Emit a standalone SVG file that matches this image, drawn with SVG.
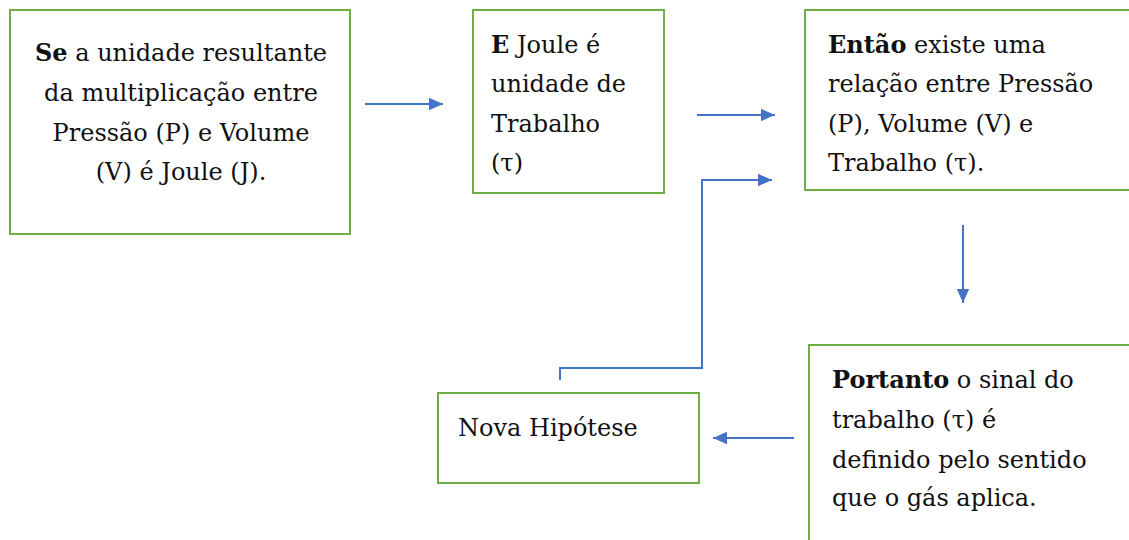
<svg xmlns="http://www.w3.org/2000/svg" width="1129" height="540" viewBox="0 0 1129 540">
<style>
.box{fill:#fff;stroke:#70ad47;stroke-width:2}
.t{font-family:'DejaVu Serif','Liberation Serif',serif;font-size:24px;fill:#111}
.c{text-anchor:middle}
.b{font-weight:bold}
.con{fill:none;stroke:#4472c4;stroke-width:2}
</style>
<defs>
<marker id="ah2" viewBox="0 0 10 10" refX="10" refY="5" markerWidth="7" markerHeight="7" orient="auto">
<path d="M0,0.6 L10,5 L0,9.4 z" fill="#4472c4"/>
</marker>
</defs>
<rect width="1129" height="540" fill="#fff"/>
<g id="n1">
<rect class="box" x="10" y="10" width="340" height="224"/>
<text class="t c" x="181" y="61"><tspan class="b">Se</tspan> a unidade resultante</text>
<text class="t c" x="181" y="101">da multiplicação entre</text>
<text class="t c" x="181" y="141">Pressão (P) e Volume</text>
<text class="t c" x="181" y="180">(V) é Joule (J).</text>
</g>
<g id="n2">
<rect class="box" x="473" y="10" width="191" height="183"/>
<text class="t" x="491" y="53"><tspan class="b">E</tspan> Joule é</text>
<text class="t" x="491" y="92">unidade de</text>
<text class="t" x="491" y="132">Trabalho</text>
<text class="t" x="491" y="171">(τ)</text>
</g>
<g id="n3">
<rect class="box" x="805" y="10" width="330" height="180"/>
<text class="t" x="828" y="53"><tspan class="b">Então</tspan> existe uma</text>
<text class="t" x="828" y="92">relação entre Pressão</text>
<text class="t" x="828" y="132">(P), Volume (V) e</text>
<text class="t" x="828" y="171">Trabalho (τ).</text>
</g>
<g id="n4">
<rect class="box" x="809" y="345" width="326" height="205"/>
<text class="t" x="832" y="388"><tspan class="b">Portanto</tspan> o sinal do</text>
<text class="t" x="832" y="428">trabalho (τ) é</text>
<text class="t" x="832" y="468">definido pelo sentido</text>
<text class="t" x="832" y="506">que o gás aplica.</text>
</g>
<g id="n5">
<rect class="box" x="438" y="393" width="261" height="90"/>
<text class="t" x="458" y="436">Nova Hipótese</text>
</g>
<g id="connectors">
<path class="con" d="M365,104 H443" marker-end="url(#ah2)"/>
<path class="con" d="M697,115 H775" marker-end="url(#ah2)"/>
<path class="con" d="M560,380 V368 H702 V180 H772" marker-end="url(#ah2)"/>
<path class="con" d="M963,225 V303" marker-end="url(#ah2)"/>
<path class="con" d="M794,438 H713" marker-end="url(#ah2)"/>
</g>
</svg>
